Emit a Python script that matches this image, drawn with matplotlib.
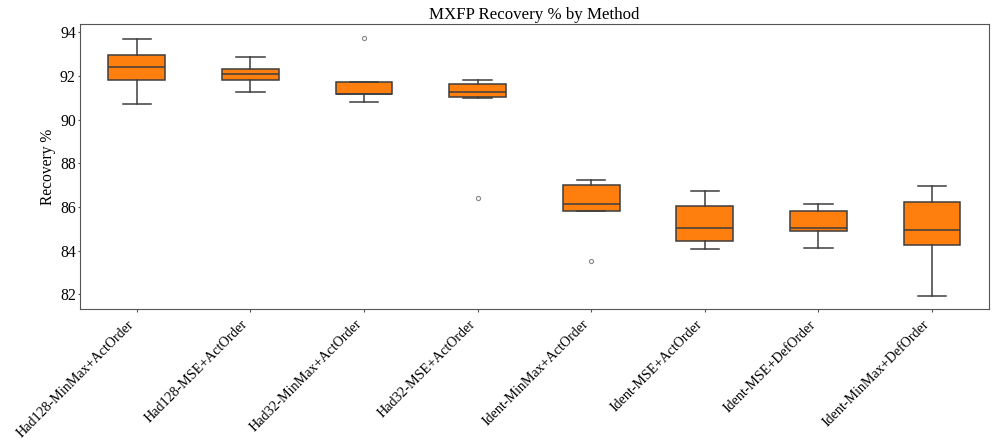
import matplotlib
matplotlib.use("Agg")
import matplotlib.pyplot as plt

methods = ["Had128-MinMax+ActOrder", "Had128-MSE+ActOrder", "Had32-MinMax+ActOrder",
           "Had32-MSE+ActOrder", "Ident-MinMax+ActOrder", "Ident-MSE+ActOrder",
           "Ident-MSE+DefOrder", "Ident-MinMax+DefOrder"]
whisker_low = [90.72, 91.28, 90.81, 90.99, 85.80, 84.09, 84.13, 81.92]
q1 =          [91.83, 91.83, 91.17, 91.02, 85.80, 84.43, 84.90, 84.26]
medians =     [92.40, 92.08, 91.18, 91.25, 86.14, 85.02, 85.04, 84.93]
q3 =          [92.98, 92.32, 91.74, 91.65, 86.99, 86.03, 85.82, 86.23]
whisker_high = [93.68, 92.87, 91.74, 91.83, 87.22, 86.75, 86.15, 86.97]
outliers = [[], [], [93.75], [86.43], [83.54], [], [], []]

plt.rcParams['font.family'] = ['Liberation Serif', 'DejaVu Serif']

fig = plt.figure(figsize=(9.97, 4.43), dpi=100)
ax = fig.add_axes([80/997, 1 - 309/443, (988.7-80)/997, (309-24.3)/443])

stats = []
for i, m in enumerate(methods):
    stats.append(dict(label=m, whislo=whisker_low[i], q1=q1[i], med=medians[i],
                      q3=q3[i], whishi=whisker_high[i], fliers=outliers[i]))

lc = '#3d3d3d'
ax.bxp(stats, positions=range(1, len(methods) + 1), widths=0.5, patch_artist=True,
       boxprops=dict(facecolor='#ff7f0e', edgecolor=lc, linewidth=1.1),
       medianprops=dict(color=lc, linewidth=1.1),
       whiskerprops=dict(color=lc, linewidth=1.1),
       capprops=dict(color=lc, linewidth=1.1),
       flierprops=dict(marker='o', markersize=3, markerfacecolor='none',
                       markeredgecolor='#888888', markeredgewidth=0.8))

ax.set_xlim(0.5, 8.5)
ax.set_ylim(81.33, 94.37)
ax.set_yticks([82, 84, 86, 88, 90, 92, 94])
ax.set_xticks(range(1, len(methods) + 1))
ax.set_xticklabels(methods, rotation=45, ha='right', fontsize=10.1)
ax.tick_params(axis='both', length=1.8, color='#555555')
ax.tick_params(axis='x', pad=4.5)
ax.tick_params(axis='y', labelsize=11.3, pad=1.2)
ax.set_ylabel('Recovery %', fontsize=11.2, labelpad=3)
ax.set_title('MXFP Recovery % by Method', fontsize=12.2, pad=4)
for s in ax.spines.values():
    s.set_color('#555555')

fig.savefig('out.png', dpi=100)
